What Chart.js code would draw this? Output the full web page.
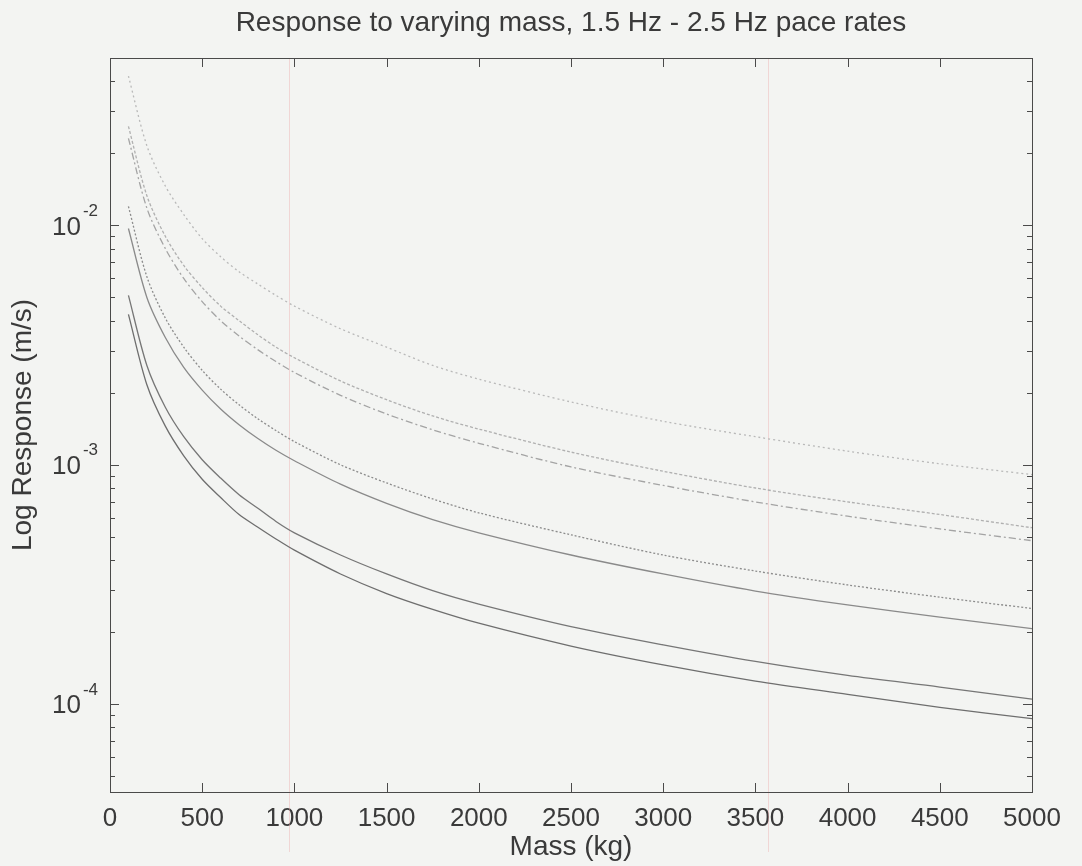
<!DOCTYPE html>
<html>
<head>
  <title>Response to varying mass</title>
  <script src="https://cdn.jsdelivr.net/npm/chart.js"></script>
  <style>
    html, body {
        margin: 0;
        padding: 0;
        background: #f3f4f2;
    }
    .chart-box {
        width: 1082px;
        height: 866px;
    }
  </style>
</head>
<body>
<div class="chart-box">
  <canvas id="massChart"></canvas>
</div>

<script>
  const mass = [100, 200, 300, 400, 500, 600, 700, 800, 900, 1000, 1250, 1500, 1750, 2000, 2500, 3000, 3500, 4000, 4500, 5000];

  // responses (m/s), top curve to bottom curve
  const resp1 = [0.042, 0.0215, 0.0146, 0.0111, 0.0088, 0.0074, 0.0064, 0.0057, 0.0051, 0.0046, 0.0037, 0.0031, 0.0026, 0.00228, 0.00183, 0.00152, 0.00131, 0.00114, 0.00101, 0.00091];
  const resp2 = [0.0259, 0.0133, 0.0090, 0.0068, 0.0055, 0.0046, 0.0040, 0.0035, 0.0031, 0.00280, 0.00224, 0.00187, 0.00160, 0.00141, 0.00113, 0.00094, 0.00080, 0.00070, 0.00062, 0.000546];
  const resp3 = [0.0231, 0.0118, 0.0080, 0.0060, 0.0048, 0.0040, 0.00345, 0.00303, 0.00270, 0.00243, 0.00195, 0.00163, 0.00140, 0.00123, 0.00098, 0.00082, 0.00070, 0.00061, 0.00054, 0.000482];
  const resp4 = [0.0120, 0.0061, 0.0041, 0.0031, 0.00248, 0.00207, 0.00178, 0.00156, 0.00139, 0.00125, 0.00100, 0.00084, 0.00072, 0.00063, 0.00051, 0.00042, 0.00036, 0.000315, 0.00028, 0.000251];
  const resp5 = [0.0097, 0.0050, 0.0034, 0.00255, 0.00205, 0.00171, 0.00147, 0.00129, 0.00115, 0.00104, 0.00083, 0.00069, 0.00059, 0.00052, 0.00042, 0.00035, 0.000297, 0.00026, 0.000231, 0.000207];
  const resp6 = [0.0051, 0.0026, 0.00174, 0.00131, 0.00105, 0.00088, 0.00075, 0.00066, 0.00058, 0.00052, 0.00042, 0.00035, 0.000298, 0.000262, 0.000211, 0.000177, 0.000151, 0.000132, 0.000118, 0.000105];
  const resp7 = [0.00425, 0.00216, 0.00145, 0.00109, 0.00087, 0.00073, 0.00062, 0.00055, 0.00049, 0.00044, 0.00035, 0.00029, 0.000249, 0.000218, 0.000175, 0.000146, 0.000125, 0.00011, 0.000097, 0.000087];

  // y decades that get a label
  const decades = [-4, -3, -2];
  // faint marks on the scanned page
  const pageMarks = [970, 3570];

  const FONT = "'Liberation Sans', Arial, Helvetica, sans-serif";
  const INK = '#3a3a3a';
  const TITLE = 'Response to varying mass, 1.5 Hz - 2.5 Hz pace rates';

  function pts(ys) {
      return mass.map((m, i) => ({ x: m, y: ys[i] }));
  }

  function line(ys, color, dash) {
      return {
          data: pts(ys),
          borderColor: color,
          borderWidth: 1.3,
          borderDash: dash,
          pointRadius: 0,
          tension: 0.3,
          fill: false
      };
  }

  // MATLAB-like box with inward ticks, 10^n labels and the title
  const matlabAxes = {
      id: 'matlabAxes',
      beforeDatasetsDraw(chart) {
          const ctx = chart.ctx;
          const a = chart.chartArea;
          const xs = chart.scales.x;
          ctx.save();
          ctx.strokeStyle = 'rgba(235, 170, 170, 0.4)';
          ctx.lineWidth = 1;
          pageMarks.forEach(m => {
              const px = Math.round(xs.getPixelForValue(m)) + 0.5;
              ctx.beginPath();
              ctx.moveTo(px, a.top);
              ctx.lineTo(px, a.bottom + 60);
              ctx.stroke();
          });
          ctx.restore();
      },
      afterDraw(chart) {
          const ctx = chart.ctx;
          const a = chart.chartArea;
          const xs = chart.scales.x;
          const ys = chart.scales.y;
          ctx.save();
          ctx.strokeStyle = '#4a4a4a';
          ctx.lineWidth = 1;
          ctx.strokeRect(Math.round(a.left) + 0.5, Math.round(a.top) + 0.5,
                         Math.round(a.right - a.left), Math.round(a.bottom - a.top));

          ctx.beginPath();
          xs.ticks.forEach(t => {
              const px = Math.round(xs.getPixelForValue(t.value)) + 0.5;
              ctx.moveTo(px, a.bottom); ctx.lineTo(px, a.bottom - 9);
              ctx.moveTo(px, a.top); ctx.lineTo(px, a.top + 9);
          });
          ys.ticks.forEach(t => {
              const py = Math.round(ys.getPixelForValue(t.value)) + 0.5;
              const major = Math.abs(Math.log10(t.value) - Math.round(Math.log10(t.value))) < 1e-9;
              const len = major ? 9 : 5;
              ctx.moveTo(a.left, py); ctx.lineTo(a.left + len, py);
              ctx.moveTo(a.right, py); ctx.lineTo(a.right - len, py);
          });
          ctx.stroke();

          ctx.fillStyle = INK;
          ctx.textBaseline = 'middle';
          decades.forEach(d => {
              const py = ys.getPixelForValue(Math.pow(10, d));
              const exp = String(d);
              ctx.font = '17px ' + FONT;
              const ew = ctx.measureText(exp).width;
              ctx.textAlign = 'left';
              ctx.fillText(exp, a.left - 12 - ew, py - 14);
              ctx.font = '26px ' + FONT;
              ctx.textAlign = 'right';
              ctx.fillText('10', a.left - 14 - ew, py + 2);
          });

          ctx.font = '28px ' + FONT;
          ctx.textAlign = 'center';
          ctx.fillText(TITLE, (a.left + a.right) / 2, 23);
          ctx.restore();
      }
  };

  new Chart(document.getElementById('massChart'), {
      type: 'line',
      data: {
          datasets: [
              line(resp1, '#b9b9b9', [2, 3]),
              line(resp2, '#b0b0b0', [3, 2]),
              line(resp3, '#a4a4a4', [7, 3, 2, 3]),
              line(resp4, '#8c8c8c', [2, 2]),
              line(resp5, '#8a8a8a', []),
              line(resp6, '#767676', []),
              line(resp7, '#6e6e6e', [])
          ]
      },
      options: {
          responsive: true,
          maintainAspectRatio: false,
          animation: false,
          layout: {
              padding: { left: 0, right: 50, top: 58, bottom: 0 }
          },
          plugins: {
              legend: { display: false },
              tooltip: { enabled: false },
              title: { display: false }
          },
          scales: {
              x: {
                  type: 'linear',
                  min: 0,
                  max: 5000,
                  grid: { display: false },
                  border: { display: false },
                  ticks: {
                      stepSize: 500,
                      color: INK,
                      padding: 3,
                      maxRotation: 0,
                      font: { family: FONT, size: 26 },
                      callback: v => String(v)
                  },
                  title: {
                      display: true,
                      text: 'Mass (kg)',
                      color: INK,
                      font: { family: FONT, size: 28 },
                      padding: { top: 0, bottom: 2 }
                  },
                  afterFit(scale) { scale.height = 74; }
              },
              y: {
                  type: 'logarithmic',
                  min: 4.3e-5,
                  max: 0.05,
                  grid: { display: false },
                  border: { display: false },
                  ticks: { display: false },
                  afterBuildTicks(scale) {
                      const out = [];
                      for (let d = -5; d <= -1; d++) {
                          for (let k = 1; k <= 9; k++) {
                              const v = k * Math.pow(10, d);
                              if (v >= scale.min && v <= scale.max) out.push({ value: v });
                          }
                      }
                      scale.ticks = out;
                  },
                  title: {
                      display: true,
                      text: 'Log Response (m/s)',
                      color: INK,
                      font: { family: FONT, size: 28 },
                      padding: { top: 6, bottom: 0 }
                  },
                  afterFit(scale) { scale.width = 110; }
              }
          }
      },
      plugins: [matlabAxes]
  });
</script>
</body>
</html>
